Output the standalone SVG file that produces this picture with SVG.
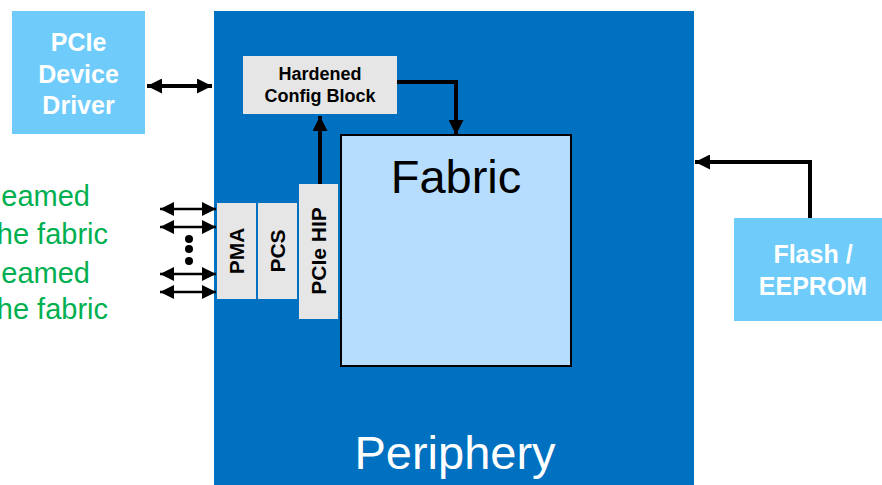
<svg xmlns="http://www.w3.org/2000/svg" width="882" height="485" viewBox="0 0 882 485">
<defs>
<style>
.lb{fill:#6ecbfa}
.gr{fill:#e6e6e6}
.wt{fill:#ffffff;font-family:"Liberation Sans",Arial,sans-serif;font-weight:bold;font-size:25px;text-anchor:middle}
.bk{fill:#000000;font-family:"Liberation Sans",Arial,sans-serif;font-weight:bold;text-anchor:middle}
.green{fill:#00b050;font-family:"Liberation Sans",Arial,sans-serif;font-size:29px;text-anchor:end}
.big{stroke:#000;stroke-width:4;fill:none}
.small{stroke:#000;stroke-width:2.6;fill:none}
</style>
<marker id="ah" viewBox="0 0 10 10" refX="10" refY="5" markerWidth="15" markerHeight="15" markerUnits="userSpaceOnUse" orient="auto-start-reverse"><path d="M0,0 L10,5 L0,10 Z" fill="#000"/></marker>
<marker id="as" viewBox="0 0 10 10" refX="10" refY="5" markerWidth="14" markerHeight="14" markerUnits="userSpaceOnUse" orient="auto-start-reverse"><path d="M0,0 L10,5 L0,10 Z" fill="#000"/></marker>
</defs>
<rect width="882" height="485" fill="#ffffff"/>
<g id="periphery">
<rect x="214" y="11" width="480" height="474" fill="#0070c0"/>
<text x="455" y="469" style="fill:#fff;font-family:'Liberation Sans',Arial,sans-serif;font-size:47px;text-anchor:middle">Periphery</text>
</g>
<g id="fabric">
<rect x="341" y="135" width="230" height="231" fill="#b7ddfe" stroke="#000" stroke-width="2"/>
<text x="456" y="193" style="fill:#000;font-family:'Liberation Sans',Arial,sans-serif;font-size:47px;text-anchor:middle">Fabric</text>
</g>
<g id="pcie-driver">
<rect class="lb" x="12" y="11" width="133" height="123"/>
<text class="wt" x="78.5" y="51">PCIe</text>
<text class="wt" x="78.5" y="83">Device</text>
<text class="wt" x="78.5" y="114">Driver</text>
</g>
<g id="flash">
<rect class="lb" x="734" y="218" width="148" height="103"/>
<text class="wt" x="813" y="263">Flash /</text>
<text class="wt" x="813" y="295">EEPROM</text>
</g>
<g id="config">
<rect class="gr" x="243" y="56" width="154" height="58"/>
<text class="bk" x="320" y="80" font-size="18">Hardened</text>
<text class="bk" x="320" y="102" font-size="18">Config Block</text>
</g>
<g id="pma">
<rect class="gr" x="217" y="203" width="39" height="96"/>
<text class="bk" font-size="21" transform="translate(244,251) rotate(-90)">PMA</text>
</g>
<g id="pcs">
<rect class="gr" x="258" y="203" width="39" height="96"/>
<text class="bk" font-size="21" transform="translate(285,251) rotate(-90)">PCS</text>
</g>
<g id="pcie-hip">
<rect class="gr" x="299" y="184" width="39" height="135"/>
<text class="bk" font-size="21" transform="translate(326,251) rotate(-90)">PCIe HIP</text>
</g>
<g id="green-text">
<text class="green" x="90" y="206">eamed</text>
<text class="green" x="108" y="244">he fabric</text>
<text class="green" x="90" y="283">eamed</text>
<text class="green" x="108" y="319">he fabric</text>
</g>
<g id="connectors">
<line class="big" x1="147" y1="86" x2="212" y2="86" marker-start="url(#ah)" marker-end="url(#ah)"/>
<polyline class="big" points="397,82 456,82 456,135" marker-end="url(#ah)"/>
<line class="big" x1="320" y1="184" x2="320" y2="116" marker-end="url(#ah)"/>
<polyline class="big" points="810,218 810,162 695,162" marker-end="url(#ah)"/>
<line class="small" x1="160" y1="209" x2="216" y2="209" marker-start="url(#as)" marker-end="url(#as)"/>
<line class="small" x1="160" y1="227" x2="216" y2="227" marker-start="url(#as)" marker-end="url(#as)"/>
<line class="small" x1="160" y1="274" x2="216" y2="274" marker-start="url(#as)" marker-end="url(#as)"/>
<line class="small" x1="160" y1="292" x2="216" y2="292" marker-start="url(#as)" marker-end="url(#as)"/>
<circle cx="189" cy="239" r="4"/>
<circle cx="189" cy="249" r="4"/>
<circle cx="189" cy="261" r="4"/>
</g>
</svg>
